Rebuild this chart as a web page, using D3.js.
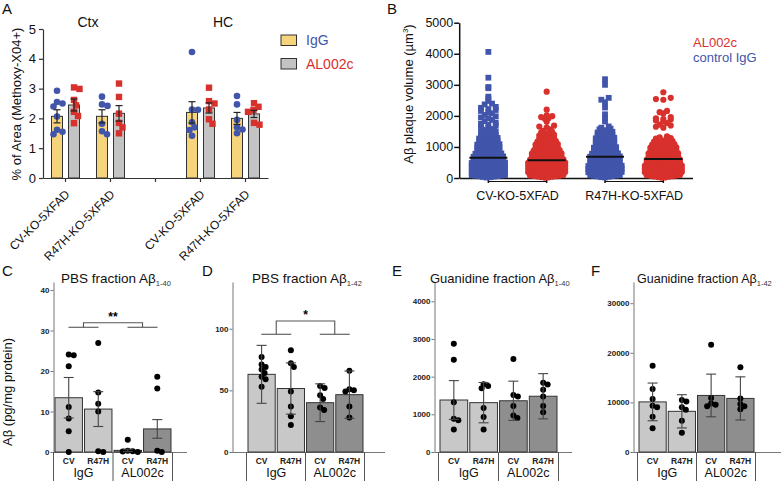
<!DOCTYPE html>
<html><head><meta charset="utf-8">
<script src="https://cdn.jsdelivr.net/npm/d3@7"></script>
<style>body{margin:0;background:#fff}svg{font-family:"Liberation Sans",Arial,Helvetica,sans-serif}</style>
</head><body><svg id="c" width="781" height="481"></svg>
<script>
// ---------------- DATA ----------------
// Panel A
const aCategories = ["Ctx CV","Ctx R47H","gap","HC CV","HC R47H"];
const aTickLabels = ["CV-KO-5XFAD","R47H-KO-5XFAD","","CV-KO-5XFAD","R47H-KO-5XFAD"];
const aRegions = ["Ctx","HC"];
const aTreatments = ["IgG","AL002c"];
const aIgGMean = [2.07,2.07,2.20,2.00];
const aIgGSem = [0.22,0.22,0.36,0.20];
const aAL002cMean = [2.45,2.17,2.35,2.15];
const aAL002cSem = [0.20,0.26,0.17,0.12];
const aIgGPoints = [[2.93,2.55,2.50,2.40,2.06,1.62,1.55,1.47],[2.73,2.47,2.42,1.82,1.57,1.47],[4.23,2.30,2.29,1.87,1.70,1.61,1.42],[2.75,2.47,1.95,1.70,1.63,1.50]];
const aAL002cPoints = [[3.04,2.99,2.62,2.44,2.22,2.08,1.84],[3.17,2.72,2.16,1.85,1.70,1.50],[3.03,2.58,2.50,2.30,1.97,1.82],[2.51,2.39,2.28,2.22,1.85,1.79]];
const aYTicks = [0,1,2,3,4,5];

// Panel B
const bGroups = ["CV IgG","CV AL002c","R47H IgG","R47H AL002c"];
const bGenotypes = ["CV-KO-5XFAD","R47H-KO-5XFAD"];
const bLegend = ["AL002c","control IgG"];
const bMedians = [655,570,687,613];
const bYTicks = [0,1000,2000,3000,4000,5000];
const bCvIgG = [15,25,35,45,55,60,70,80,88,95,105,112,120,130,140,150,160,170,180,192,205,215,222,235,245,250,262,270,282,295,302,310,320,332,340,350,362,372,385,395,405,412,425,432,445,450,462,475,483,498,505,515,528,535,548,560,570,582,595,602,615,622,638,645,660,672,684,696,705,718,730,742,755,768,780,792,808,820,835,850,862,878,890,905,918,930,945,960,972,990,1005,1020,1032,1048,1060,1075,1090,1110,1125,1140,1155,1170,1190,1205,1220,1240,1255,1270,1290,1310,1330,1350,1365,1385,1405,1420,1440,1460,1485,1510,1530,1555,1580,1615,1640,1680,1710,1745,1780,1830,1870,1920,1950,1985,2030,2080,2110,2160,2190,2220,2260,2290,2370,2395,2480,2560,2620,2890,2930,3230,4060];
const bCvAL002c = [12,22,30,42,50,58,66,75,84,93,102,110,118,126,135,144,152,160,170,182,194,203,212,220,230,238,246,255,266,275,286,296,304,312,322,330,340,348,357,366,375,386,397,402,411,420,430,440,448,458,466,476,486,496,505,515,524,534,545,555,566,576,586,597,606,618,628,640,652,664,676,688,698,704,716,726,738,750,762,774,784,795,806,818,832,845,858,870,882,895,908,920,935,950,962,978,992,1004,1018,1032,1046,1060,1075,1092,1108,1125,1140,1158,1172,1190,1210,1228,1245,1265,1285,1305,1325,1345,1368,1390,1410,1435,1460,1488,1520,1570,1620,1655,1685,1810,1905,1925,1960,1990,2020,2200,2780];
const bR47hIgG = [18,28,40,52,60,70,78,86,95,104,114,122,134,143,152,163,172,184,195,204,214,224,234,244,254,264,274,285,296,305,315,324,334,345,354,364,374,386,396,406,416,428,438,450,460,472,484,495,506,518,528,540,552,562,574,585,596,604,616,626,638,650,662,674,686,697,708,720,732,745,758,770,782,794,805,818,832,846,860,874,890,906,920,934,948,962,976,992,1010,1025,1040,1058,1074,1090,1105,1122,1138,1155,1172,1190,1208,1225,1242,1260,1278,1295,1310,1330,1350,1370,1390,1405,1425,1445,1465,1488,1510,1540,1565,1590,1620,1660,1820,1930,2050,2270,2440,2520,2580,3000,3180];
const bR47hAL002c = [10,20,30,40,50,60,70,80,88,96,100,110,120,128,138,146,155,165,175,185,195,205,213,222,232,240,250,260,270,280,290,298,302,312,320,330,340,350,360,370,380,390,398,405,415,425,435,445,455,465,475,485,495,505,515,525,535,545,555,565,575,585,595,605,616,627,638,650,661,672,684,695,705,716,728,740,752,764,775,786,797,805,818,830,844,856,870,882,895,905,916,928,940,952,965,978,990,1005,1020,1034,1048,1062,1076,1090,1105,1122,1140,1156,1174,1190,1205,1225,1245,1265,1285,1310,1340,1620,1650,1690,1720,1770,1820,1850,1880,1900,1920,1960,2080,2120,2160,2520,2540,2580,2760];

// Panels C-F (shared categories)
const genotypeLabels = ["CV","R47H","CV","R47H"];
const treatmentLabels = ["IgG","AL002c"];
const cMean = [13.4,10.6,0.4,5.7];
const cErr = [5.0,4.3,0.3,2.3];
const cPoints = [[24.1,23.9,21.2,11.1,8.3,5.1,0],[26.9,14.7,11.9,10.0,0.2,0],[3.0,0.3,0.2,0.1,0],[18.6,15.7,0.3,0]];
const cTicks = [0,10,20,30,40];
const cSig = [30.8,31.9];
const dMean = [63,51.5,40,46.5];
const dErr = [23.5,20.8,15.3,19.2];
const dPoints = [[77,71,69,67,64,61,59,53],[82.5,72,69,49,37,29,22],[53.5,52,46,43,36,34],[66,51,50,49,37,28]];
const dTicks = [0,50,100];
const dSig = [95.5,106.3];
const eMean = [1380,1310,1360,1480];
const eErr = [515,535,520,600];
const ePoints = [[2870,2450,1320,880,840,600],[1800,1750,1690,1170,930,600],[2470,1510,1470,1220,970,900],[1840,1790,1650,1470,1220,1055]];
const eTicks = [0,1000,2000,3000,4000];
const fMean = [10100,8200,11400,10800];
const fErr = [3800,3350,4300,4350];
const fPoints = [[17400,12700,10700,9300,9000,7100,4800],[10500,10200,9000,8500,6300,3900],[21600,10900,9800,9500,9200],[17100,10800,9700,9200,8600]];
const fTicks = [0,10000,20000,30000];

// ---------------- DRAWING ----------------
const svg = d3.select("#c");
const blue = "#4155ab", red = "#d8302c";
const font = "'Liberation Sans',Arial,Helvetica,sans-serif";

function swarm(vals, y, r) {
  const placed = [], out = new Array(vals.length);
  const order = d3.range(vals.length).sort((a,b)=>d3.descending(vals[a],vals[b]));
  for (const i of order) {
    const yy = y(vals[i]);
    let best = 0;
    for (let k=0;k<400;k++){
      const c = k===0?0:(k%2?1:-1)*Math.ceil(k/2)*0.5;
      if (placed.every(p=>Math.hypot(p.x-c,p.y-yy)>=2*r)) {best=c;break;}
    }
    placed.push({x:best,y:yy}); out[i]=best;
  }
  return out;
}
function rowLayout(vals, step, spacing) {
  const out = new Array(vals.length);
  const rows = d3.group(vals.map((v,i)=>({v,i})), d=>Math.floor(d.v/step));
  rows.forEach(arr=>{
    arr.sort((a,b)=>a.v-b.v);
    const n = arr.length;
    const sp = n<=3 ? spacing*2 : spacing;
    const slots = d3.range(n).map(j=>(j-(n-1)/2)*sp).sort((a,b)=>Math.abs(a)-Math.abs(b)||a-b);
    arr.forEach((d,j)=>out[d.i]=slots[j]);
  });
  return out;
}

// panel letters
[["A",2,14],["B",387,14],["C",2,276],["D",202,276],["E",392,276],["F",591,276]].forEach(([t,x,y])=>
  svg.append("text").attr("x",x).attr("y",y).attr("font-size",15).attr("fill","#111").text(t));

// ===== Panel A =====
(function(){
  const g = svg.append("g");
  const xA = d3.scaleBand().domain(aCategories).range([43,268]);
  const yA = d3.scaleLinear().domain([0,5]).range([178,29]);
  const sub = d3.scaleBand().domain(aTreatments).range([-14,14]).paddingInner(0.353);
  const barCats = aCategories.filter(c=>c!=="gap");
  const ya = g.append("g").attr("transform","translate(43,0)")
    .call(d3.axisLeft(yA).tickValues(aYTicks).tickSize(4).tickSizeOuter(0).tickFormat(d3.format("d")));
  const xa = g.append("g").attr("transform","translate(0,178)")
    .call(d3.axisBottom(xA).tickSize(4).tickSizeOuter(0).tickFormat(""));
  [ya,xa].forEach(a=>{a.selectAll(".domain,.tick line").attr("stroke","#333").attr("stroke-width",1.2);});
  ya.selectAll(".tick text").attr("font-size",13).attr("font-family",font).attr("fill","#111");
  // rotated labels
  aCategories.forEach((c,i)=>{ if(!aTickLabels[i]) return;
    const cx = xA(c)+xA.bandwidth()/2;
    g.append("text").attr("transform",`translate(${cx+5},195) rotate(-45)`).attr("text-anchor","end")
      .attr("font-size",12).attr("fill","#111").text(aTickLabels[i]);
  });
  // region titles
  aRegions.forEach((r,i)=>{
    const c1 = xA(barCats[i*2])+xA.bandwidth()/2, c2 = xA(barCats[i*2+1])+xA.bandwidth()/2;
    g.append("text").attr("x",(c1+c2)/2).attr("y",27).attr("text-anchor","middle").attr("font-size",14).attr("fill","#111").text(r);
  });
  // y label
  g.append("text").attr("transform","translate(21,104) rotate(-90)").attr("text-anchor","middle")
    .attr("font-size",13).attr("fill","#111").text("% of Area (Methoxy-X04+)");
  const sets = [
    {t:"IgG",mean:aIgGMean,sem:aIgGSem,pts:aIgGPoints,fill:"#f6d47c",col:blue,shape:"circle"},
    {t:"AL002c",mean:aAL002cMean,sem:aAL002cSem,pts:aAL002cPoints,fill:"#c3c3c3",col:red,shape:"square"}];
  sets.forEach(s=>{
    barCats.forEach((c,i)=>{
      const cx = xA(c)+xA.bandwidth()/2+sub(s.t)+sub.bandwidth()/2;
      g.append("rect").attr("x",cx-sub.bandwidth()/2).attr("width",sub.bandwidth())
        .attr("y",yA(s.mean[i])).attr("height",yA(0)-yA(s.mean[i])).attr("fill",s.fill).attr("stroke","#333").attr("stroke-width",1);
      const off = swarm(s.pts[i], yA, 2.8);
      s.pts[i].forEach((v,j)=>{
        if (s.shape==="circle") g.append("circle").attr("cx",cx+off[j]).attr("cy",yA(v)).attr("r",3.3).attr("fill",s.col);
        else g.append("rect").attr("x",cx+off[j]-3.2).attr("y",yA(v)-3.2).attr("width",6.4).attr("height",6.4).attr("fill",s.col);
      });
      const hi=yA(s.mean[i]+s.sem[i]), lo=yA(s.mean[i]-s.sem[i]);
      g.append("line").attr("x1",cx).attr("x2",cx).attr("y1",hi).attr("y2",lo).attr("stroke","#222").attr("stroke-width",1.2);
      [hi,lo].forEach(yy=>g.append("line").attr("x1",cx-3.5).attr("x2",cx+3.5).attr("y1",yy).attr("y2",yy).attr("stroke","#222").attr("stroke-width",1.2));
    });
  });
  // legend
  sets.forEach((s,i)=>{
    g.append("rect").attr("x",281).attr("y",35+i*23.5).attr("width",15.5).attr("height",10.5).attr("fill",s.fill).attr("stroke","#333");
    g.append("text").attr("x",306).attr("y",45+i*23.5).attr("font-size",14).attr("fill",s.col).text(s.t);
  });
})();

// ===== Panel B =====
(function(){
  const g = svg.append("g");
  const xB = d3.scaleBand().domain(bGroups).range([459.2,692.5]);
  const yB = d3.scaleLinear().domain([0,5000]).range([178,22.7]);
  const ya = g.append("g").attr("transform","translate(459.2,0)")
    .call(d3.axisLeft(yB).tickValues(bYTicks).tickSize(5).tickSizeOuter(0).tickFormat(d3.format("d")));
  const xa = g.append("g").attr("transform","translate(0,178)")
    .call(d3.axisBottom(xB).tickSize(5).tickSizeOuter(0).tickFormat(""));
  [ya,xa].forEach(a=>{a.selectAll(".domain,.tick line").attr("stroke","#111").attr("stroke-width",1.5);});
  ya.selectAll(".tick text").attr("font-size",12.5).attr("font-family",font).attr("fill","#111").attr("x",-6);
  const data = [bCvIgG,bCvAL002c,bR47hIgG,bR47hAL002c];
  data.forEach((vals,k)=>{
    const cx = xB(bGroups[k])+xB.bandwidth()/2;
    const off = rowLayout(vals, 100, 3.7);
    const isIgG = k%2===0;
    vals.forEach((v,j)=>{
      if (isIgG) g.append("rect").attr("x",cx+off[j]-2.9).attr("y",yB(v)-2.9).attr("width",5.8).attr("height",5.8).attr("fill",blue);
      else g.append("circle").attr("cx",cx+off[j]).attr("cy",yB(v)).attr("r",3.1).attr("fill",red);
    });
    g.append("line").attr("x1",cx-19).attr("x2",cx+19).attr("y1",yB(bMedians[k])).attr("y2",yB(bMedians[k])).attr("stroke","#111").attr("stroke-width",2);
  });
  bGenotypes.forEach((t,i)=>{
    const c1 = xB(bGroups[i*2])+xB.bandwidth()/2, c2 = xB(bGroups[i*2+1])+xB.bandwidth()/2;
    g.append("line").attr("x1",c1).attr("x2",c2).attr("y1",181.5).attr("y2",181.5).attr("stroke","#111").attr("stroke-width",1);
    g.append("text").attr("x",(c1+c2)/2).attr("y",200).attr("text-anchor","middle").attr("font-size",12.5).attr("fill","#111").text(t);
  });
  const yl = g.append("text").attr("transform","translate(413,94) rotate(-90)").attr("text-anchor","middle").attr("font-size",13).attr("fill","#111");
  yl.append("tspan").text("Aβ plaque volume (µm");
  yl.append("tspan").attr("font-size",8).attr("dy",-5).text("3");
  yl.append("tspan").attr("dy",5).text(")");
  [red,blue].forEach((c,i)=>g.append("text").attr("x",693).attr("y",47+i*15).attr("font-size",13).attr("fill",c).text(bLegend[i]));
})();

// ===== Panels C-F =====
function barPanel(o){
  const g = svg.append("g");
  const y = d3.scaleLinear().domain([0,o.yMax]).range([452,282]);
  const keys = d3.range(o.mean.length);
  const x = d3.scaleBand().domain(keys).range(o.barRange).paddingInner(0.07);
  const bw = x.bandwidth();
  const ya = g.append("g").attr("transform",`translate(${o.axisX},0)`)
    .call(d3.axisLeft(y).tickValues(o.ticks).tickSize(3).tickSizeOuter(0).tickFormat(d3.format("d")));
  ya.selectAll(".domain,.tick line").attr("stroke","#777").attr("stroke-width",1);
  ya.selectAll(".tick text").attr("font-size",8).attr("font-weight","bold").attr("font-family",font).attr("fill","#222").attr("x",-4);
  g.append("line").attr("x1",o.axisX).attr("x2",o.axisEnd).attr("y1",452.5).attr("y2",452.5).attr("stroke","#777");
  keys.forEach(k=>{
    const cx = x(k)+bw/2;
    g.append("rect").attr("x",x(k)).attr("width",bw).attr("y",y(o.mean[k])).attr("height",y(0)-y(o.mean[k]))
      .attr("fill",k<2?"#c8c8c8":"#8e8e8e").attr("stroke","#333").attr("stroke-width",1);
    const off = swarm(o.points[k], y, 2.3);
    o.points[k].forEach((v,j)=>g.append("circle").attr("cx",cx+off[j]).attr("cy",y(v)).attr("r",3).attr("fill","#000"));
    const hi=y(o.mean[k]+o.err[k]), lo=y(Math.max(0,o.mean[k]-o.err[k]));
    g.append("line").attr("x1",cx).attr("x2",cx).attr("y1",hi).attr("y2",lo).attr("stroke","#444").attr("stroke-width",1.1);
    [hi,lo].forEach(yy=>g.append("line").attr("x1",cx-5).attr("x2",cx+5).attr("y1",yy).attr("y2",yy).attr("stroke","#444").attr("stroke-width",1.1));
    g.append("text").attr("x",cx).attr("y",464).attr("text-anchor","middle").attr("font-size",8.5).attr("font-weight","bold").attr("fill","#222").text(genotypeLabels[k]);
  });
  const x0=o.barRange[0], x1=o.barRange[1];
  [x0-1.5,(x0+x1)/2,x1+1.5].forEach(dx=>g.append("line").attr("x1",dx).attr("x2",dx).attr("y1",452).attr("y2",481).attr("stroke","#555"));
  const gc = [(x(0)+x(1)+bw)/2,(x(2)+x(3)+bw)/2];
  treatmentLabels.forEach((t,i)=>g.append("text").attr("x",gc[i]).attr("y",477).attr("text-anchor","middle").attr("font-size",12.5).attr("fill","#111").text(t));
  if (o.sig) {
    const [lv,tp] = o.sig;
    gc.forEach(c=>g.append("line").attr("x1",c-15).attr("x2",c+15).attr("y1",y(lv)).attr("y2",y(lv)).attr("stroke","#555").attr("stroke-width",1.1));
    g.append("path").attr("d",`M${gc[0]},${y(lv)}V${y(tp)}H${gc[1]}V${y(lv)}`).attr("fill","none").attr("stroke","#555").attr("stroke-width",1.1);
    g.append("text").attr("x",(gc[0]+gc[1])/2).attr("y",y(tp)-2).attr("text-anchor","middle").attr("font-size",12).attr("font-weight","bold").text(o.sigText);
  }
  const tt = g.append("text").attr("x",o.titleX).attr("y",283).attr("font-size",o.titleSize||13.5).attr("fill","#111");
  tt.append("tspan").text(o.title);
  tt.append("tspan").attr("font-size",7.5).attr("dy",3).attr("fill","#333").text(o.titleSub);
  if (o.ylabel) g.append("text").attr("transform","translate(12,392) rotate(-90)").attr("text-anchor","middle").attr("font-size",13).attr("fill","#111").text(o.ylabel);
}
barPanel({mean:cMean,err:cErr,points:cPoints,ticks:cTicks,yMax:41.98,axisX:53.5,axisEnd:187,barRange:[55,171],sig:cSig,sigText:"**",title:"PBS fraction Aβ",titleSub:"1-40",titleX:61,ylabel:"Aβ (pg/mg protein)"});
barPanel({mean:dMean,err:dErr,points:dPoints,ticks:dTicks,yMax:137.9,axisX:232.5,axisEnd:385,barRange:[248,363],sig:dSig,sigText:"*",title:"PBS fraction Aβ",titleSub:"1-42",titleX:252});
barPanel({mean:eMean,err:eErr,points:ePoints,ticks:eTicks,yMax:4512,axisX:434.5,axisEnd:572,barRange:[440,557],title:"Guanidine fraction Aβ",titleSub:"1-40",titleX:430,titleSize:13});
barPanel({mean:fMean,err:fErr,points:fPoints,ticks:fTicks,yMax:34270,axisX:633.5,axisEnd:781,barRange:[639,754],title:"Guanidine fraction Aβ",titleSub:"1-42",titleX:637,titleSize:12.5});
</script></body></html>
